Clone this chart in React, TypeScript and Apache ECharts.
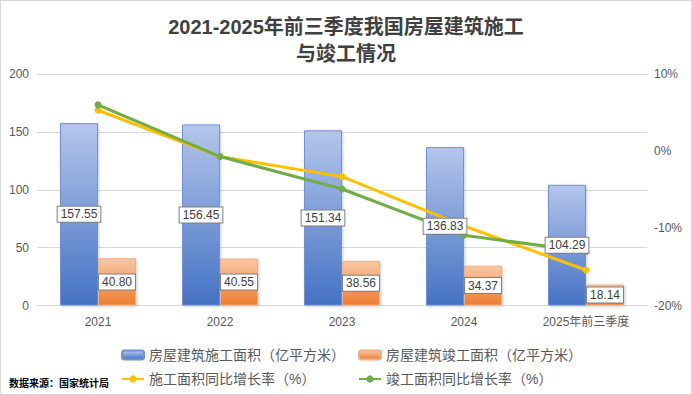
import React, { useEffect, useRef } from "react";
import * as echarts from "echarts";

const categories = ["2021", "2022", "2023", "2024", "2025年前三季度"];
const constructionArea = [157.55, 156.45, 151.34, 136.83, 104.29];
const completedArea = [40.8, 40.55, 38.56, 34.37, 18.14];
const constructionGrowth = [5.3, -0.7, -3.3, -9.7, -15.4];
const completedGrowth = [6.0, -0.7, -4.9, -10.9, -13.0];
const leftTicks = { min: 0, max: 200, interval: 50 };
const rightTicks = { min: -20, max: 10, interval: 10 };

const names = [
  "房屋建筑施工面积（亿平方米）",
  "房屋建筑竣工面积（亿平方米）",
  "施工面积同比增长率（%）",
  "竣工面积同比增长率（%）",
];

const FONT = "'Liberation Sans', 'Noto Sans CJK SC', sans-serif";

export default function App() {
  const ref = useRef<HTMLDivElement>(null);
  useEffect(() => {
    document.body.style.margin = "0";
    const chart = echarts.init(ref.current!, null, { renderer: "svg" });
    const grad = (top: string, bottom: string) =>
      new echarts.graphic.LinearGradient(0, 0, 0, 1, [
        { offset: 0, color: top },
        { offset: 1, color: bottom },
      ]);
    const labelSeries = (values: number[], dx: number) => ({
      type: "scatter",
      data: values.map((v) => v / 2),
      symbolSize: 1,
      itemStyle: { color: "rgba(0,0,0,0)", opacity: 1 },
      silent: true,
      z: 10,
      label: {
        show: true,
        position: "inside",
        offset: [dx, 0],
        formatter: (p: any) => values[p.dataIndex].toFixed(2),
        color: "#404040",
        opacity: 1,
        fontSize: 12,
        fontFamily: FONT,
        backgroundColor: "#ffffff",
        borderColor: "#7f7f7f",
        borderWidth: 1,
        padding: [2, 3, 1, 3],
      },
    });
    const legendBase = {
      itemWidth: 22,
      itemHeight: 9,
      textStyle: { fontSize: 14, color: "#595959", fontFamily: FONT },
      selectedMode: false,
    };
    chart.setOption({
      animation: false,
      backgroundColor: "#ffffff",
      title: {
        text: "2021-2025年前三季度我国房屋建筑施工\n与竣工情况",
        left: "center",
        top: 7,
        textStyle: {
          fontSize: 20,
          fontWeight: "bold",
          color: "#404040",
          lineHeight: 27,
          fontFamily: FONT,
        },
      },
      grid: { left: 36, right: 44, top: 73, bottom: 88.5 },
      legend: [
        { ...legendBase, data: [names[0]], left: 115, top: 342 },
        { ...legendBase, data: [names[1]], left: 352, top: 342 },
        { ...legendBase, data: [names[2]], left: 115, top: 366 },
        { ...legendBase, data: [names[3]], left: 352, top: 366 },
      ],
      xAxis: {
        type: "category",
        data: categories,
        axisTick: { show: false },
        axisLine: { lineStyle: { color: "#d9d9d9" } },
        axisLabel: { color: "#595959", fontSize: 12, fontFamily: FONT, margin: 10 },
      },
      yAxis: [
        {
          type: "value",
          ...leftTicks,
          axisLabel: { color: "#595959", fontSize: 12, fontFamily: FONT, margin: 8 },
          axisLine: { show: false },
          axisTick: { show: false },
          splitLine: { lineStyle: { color: "#d9d9d9" } },
        },
        {
          type: "value",
          ...rightTicks,
          axisLabel: {
            color: "#595959",
            fontSize: 12,
            fontFamily: FONT,
            margin: 7,
            formatter: (v: number) => `${v}%`,
          },
          axisLine: { show: false },
          axisTick: { show: false },
          splitLine: { show: false },
        },
      ],
      series: [
        {
          name: names[0],
          type: "bar",
          data: constructionArea,
          barWidth: 38,
          barGap: "0%",
          z: 2,
          itemStyle: {
            color: grad("#b4c6ea", "#4472c4"),
            borderColor: "#6f91d6",
            borderWidth: 1,
            shadowColor: "rgba(0,0,0,0.2)",
            shadowBlur: 3,
            shadowOffsetX: 1,
            shadowOffsetY: 1,
          },
        },
        {
          name: names[1],
          type: "bar",
          data: completedArea,
          barWidth: 38,
          z: 2,
          itemStyle: {
            color: grad("#f8c7a4", "#ed7d31"),
            borderColor: "#f4ad7c",
            borderWidth: 1,
            shadowColor: "rgba(0,0,0,0.2)",
            shadowBlur: 3,
            shadowOffsetX: 1,
            shadowOffsetY: 1,
          },
        },
        {
          name: names[2],
          type: "line",
          yAxisIndex: 1,
          data: constructionGrowth,
          symbol: "circle",
          symbolSize: 7,
          z: 3,
          lineStyle: { color: "#ffc000", width: 3 },
          itemStyle: { color: "#ffc000" },
        },
        {
          name: names[3],
          type: "line",
          yAxisIndex: 1,
          data: completedGrowth,
          symbol: "circle",
          symbolSize: 7,
          z: 3,
          lineStyle: { color: "#70ad47", width: 3 },
          itemStyle: { color: "#70ad47" },
        },
        labelSeries(constructionArea, -19),
        labelSeries(completedArea, 19),
      ],
      graphic: [
        {
          type: "text",
          left: 8,
          top: 377,
          style: {
            text: "数据来源：国家统计局",
            fontSize: 10,
            fontWeight: "bold",
            fill: "#000000",
            fontFamily: FONT,
          },
        },
      ],
    });
    return () => chart.dispose();
  }, []);
  return (
    <div
      style={{
        position: "absolute",
        left: 0,
        top: 0,
        width: 692,
        height: 395,
        border: "1px solid #d9d9d9",
        boxSizing: "border-box",
        background: "#fff",
      }}
    >
      <div ref={ref} style={{ width: 690, height: 393 }} />
    </div>
  );
}
